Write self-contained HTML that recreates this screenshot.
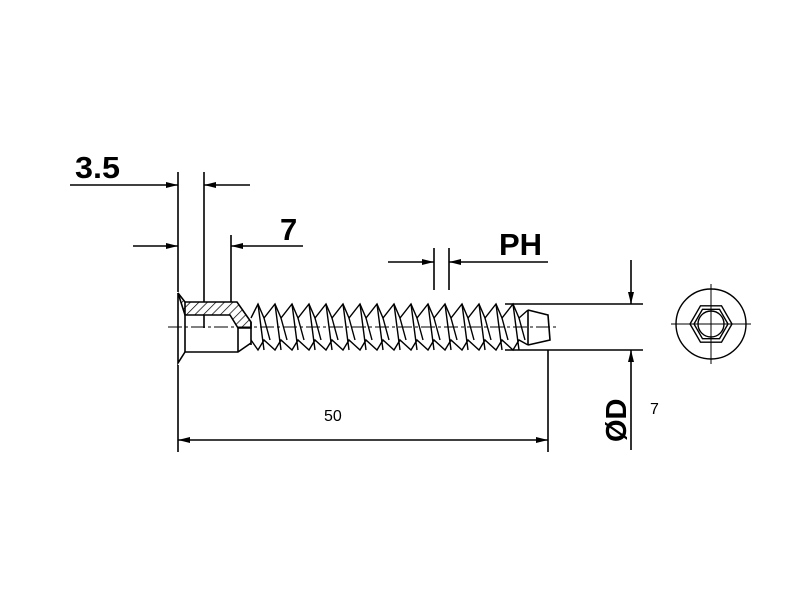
<!DOCTYPE html>
<html><head><style>body{margin:0;background:#fff}svg{display:block}</style></head><body>
<svg width="800" height="601" viewBox="0 0 800 601" xmlns="http://www.w3.org/2000/svg">
<defs>
<pattern id="h" width="6" height="6" patternUnits="userSpaceOnUse" patternTransform="rotate(45)"><line x1="0" y1="0" x2="0" y2="6" stroke="#000" stroke-width="1.4"/></pattern>
<marker id="a" viewBox="0 0 12 6" refX="12" refY="3" markerWidth="12" markerHeight="6" markerUnits="userSpaceOnUse" orient="auto"><path d="M0,0L12,3L0,6z" fill="#000"/></marker>
</defs>
<g stroke="#000" stroke-width="1.6" fill="none">
<line x1="178" y1="172" x2="178" y2="292"/>
<line x1="204" y1="172" x2="204" y2="302"/>
<line x1="231" y1="235" x2="231" y2="302"/>
<line x1="434" y1="248" x2="434" y2="290"/>
<line x1="449" y1="248" x2="449" y2="290"/>
<line x1="178" y1="365" x2="178" y2="452"/>
<line x1="548" y1="350" x2="548" y2="452"/>
<line x1="505" y1="304" x2="643" y2="304"/>
<line x1="505" y1="350" x2="643" y2="350"/>
<line x1="70" y1="185" x2="178" y2="185" marker-end="url(#a)"/>
<line x1="250" y1="185" x2="204" y2="185" marker-end="url(#a)"/>
<line x1="133" y1="246" x2="178" y2="246" marker-end="url(#a)"/>
<line x1="303" y1="246" x2="231" y2="246" marker-end="url(#a)"/>
<line x1="388" y1="262" x2="434" y2="262" marker-end="url(#a)"/>
<line x1="548" y1="262" x2="449" y2="262" marker-end="url(#a)"/>
<line x1="363" y1="440" x2="178" y2="440" marker-end="url(#a)"/>
<line x1="363" y1="440" x2="548" y2="440" marker-end="url(#a)"/>
<line x1="631" y1="260" x2="631" y2="304" marker-end="url(#a)"/>
<line x1="631" y1="450" x2="631" y2="350" marker-end="url(#a)"/>
</g>
<path d="M178,293 L185,302 L237,302 L251,322 L251,328 L238,328 L230,315 L185,315 Z" fill="url(#h)" stroke="#000" stroke-width="1.6"/>
<g stroke="#000" stroke-width="1.6" fill="none">
<path d="M178,293 L178,363 L185,352 L238,352 L251,343"/>
<line x1="185" y1="302" x2="185" y2="352"/>
<line x1="204" y1="315" x2="204" y2="328"/>
<line x1="238" y1="328" x2="238" y2="352"/>
<line x1="251" y1="322" x2="251" y2="345"/>
<path d="M528,310 L548,315 L550,340 L528,345"/>
<line x1="528" y1="310" x2="528" y2="345"/>
</g>
<g stroke="#000" stroke-width="1.4" fill="none">
<path d="M251,318 L258,304 L264,318 L275,304 L281,318 L292,304 L298,318 L309,304 L315,318 L326,304 L332,318 L343,304 L349,318 L360,304 L366,318 L377,304 L383,318 L394,304 L400,318 L411,304 L417,318 L428,304 L434,318 L445,304 L451,318 L462,304 L468,318 L479,304 L485,318 L496,304 L502,318 L513,304 L519,318 L528,310"/>
<path d="M251,340 L258,350 L264,340 L275,350 L281,340 L292,350 L298,340 L309,350 L315,340 L326,350 L332,340 L343,350 L349,340 L360,350 L366,340 L377,350 L383,340 L394,350 L400,340 L411,350 L417,340 L428,350 L434,340 L445,350 L451,340 L462,350 L468,340 L479,350 L485,340 L496,350 L502,340 L513,350 L519,340 L528,345"/>
<path d="M258,304 L264,350 M275,304 L281,350 M292,304 L298,350 M309,304 L315,350 M326,304 L332,350 M343,304 L349,350 M360,304 L366,350 M377,304 L383,350 M394,304 L400,350 M411,304 L417,350 M428,304 L434,350 M445,304 L451,350 M462,304 L468,350 M479,304 L485,350 M496,304 L502,350 M513,304 L519,350"/>
<path d="M264,318 L270,340 M281,318 L287,340 M298,318 L304,340 M315,318 L321,340 M332,318 L338,340 M349,318 L355,340 M366,318 L372,340 M383,318 L389,340 M400,318 L406,340 M417,318 L423,340 M434,318 L440,340 M451,318 L457,340 M468,318 L474,340 M485,318 L491,340 M502,318 L508,340 M519,318 L525,340"/>
</g>
<line x1="168" y1="327" x2="556" y2="327" stroke="#000" stroke-width="1" stroke-dasharray="14,3,3,3"/>
<g stroke="#000" stroke-width="1.4" fill="none">
<circle cx="711" cy="324" r="35"/>
<polygon points="690,324 700.5,305.8 721.5,305.8 732,324 721.5,342.2 700.5,342.2"/>
<polygon points="694,324 702.5,309.3 719.5,309.3 728,324 719.5,338.7 702.5,338.7"/>
<circle cx="711" cy="324" r="13"/>
<line x1="671" y1="324" x2="751" y2="324" stroke-width="1"/>
<line x1="711" y1="284" x2="711" y2="364" stroke-width="1"/>
</g>
<g font-family="Liberation Sans, sans-serif" fill="#000">
<text x="75" y="178" font-size="31" font-weight="bold" textLength="45" lengthAdjust="spacingAndGlyphs">3.5</text>
<text x="280" y="240" font-size="31" font-weight="bold">7</text>
<text x="499" y="255" font-size="31" font-weight="bold">PH</text>
<text x="324" y="421" font-size="16">50</text>
<text x="650" y="414" font-size="16">7</text>
<text transform="translate(626,442) rotate(-90)" font-size="29" font-weight="bold">ØD</text>
</g>
</svg>
</body></html>
